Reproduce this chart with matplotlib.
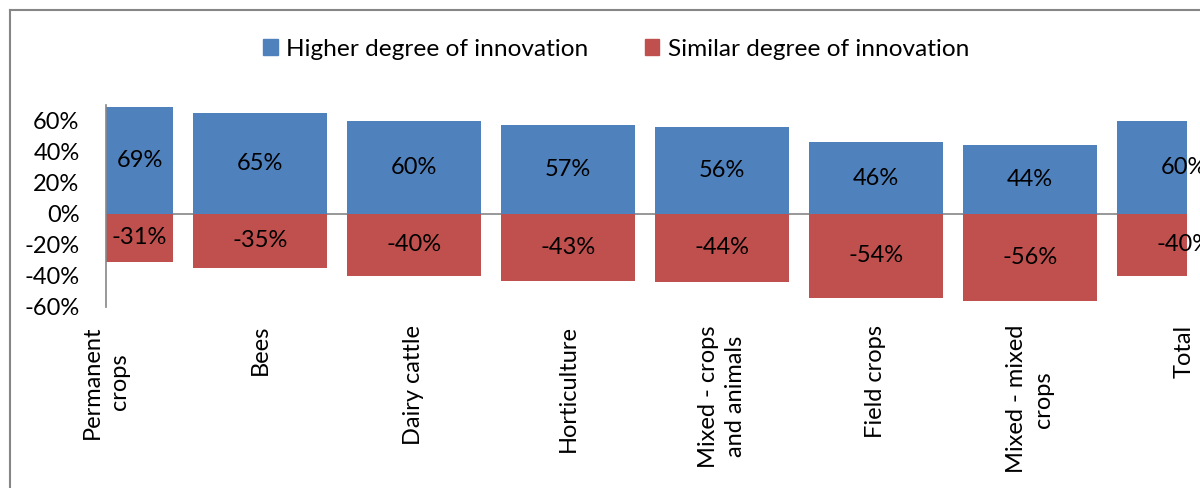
import matplotlib
matplotlib.use("Agg")
import matplotlib.pyplot as plt
from matplotlib.patches import Patch
from matplotlib.lines import Line2D

categories = ["Permanent\ncrops", "Bees", "Dairy cattle", "Horticulture",
              "Mixed - crops\nand animals", "Field crops", "Mixed - mixed\ncrops", "Total"]
higher = [69, 65, 60, 57, 56, 46, 44, 60]
similar = [-31, -35, -40, -43, -44, -54, -56, -40]
yticks = [-60, -40, -20, 0, 20, 40, 60]
series_names = ["Higher degree of innovation", "Similar degree of innovation"]

BLUE = "#4F81BD"
RED = "#C0504D"
GRAY = "#868686"
FONT = "Lato"
FS = 17

plt.rcParams["font.family"] = [FONT, "DejaVu Sans"]

W, H = 1200, 488
fig = plt.figure(figsize=(W / 100, H / 100), dpi=100)
left, right, top, bottom = 106, 1187, 105, 307
ax = fig.add_axes([left / W, 1 - bottom / H, (right - left) / W, (bottom - top) / H])

x = list(range(len(categories)))
bw = 0.87
xmin, xmax = 0.0, 7.02
ax.bar(x, higher, width=bw, color=BLUE, zorder=2)
ax.bar(x, similar, width=bw, color=RED, zorder=2)
ax.axhline(0, color=GRAY, lw=1.2, zorder=1)

ax.set_xlim(xmin, xmax)
ax.set_ylim(-60, 70)
ax.set_yticks(yticks)
ax.set_yticklabels([f"{v}%" for v in yticks], fontsize=FS)
ax.tick_params(axis="y", length=0, pad=19)
ax.set_xticks(x)
ax.set_xticklabels(categories, rotation=90, fontsize=FS, va="top", ha="center",
                   multialignment="center", linespacing=1.4)
ax.tick_params(axis="x", length=0, pad=13)

for s in ["top", "right", "bottom"]:
    ax.spines[s].set_visible(False)
ax.spines["left"].set_color(GRAY)
ax.spines["left"].set_linewidth(1.2)

for i in x:
    lo = max(i - bw / 2, xmin)
    hi = i + bw / 2
    xc = (lo + hi) / 2 if i - bw / 2 < xmin else i
    ax.text(xc, higher[i] / 2, f"{higher[i]}%", ha="center", va="center",
            fontsize=FS, clip_on=False, zorder=3)
    ax.text(xc, similar[i] / 2, f"{similar[i]}%", ha="center", va="center",
            fontsize=FS, clip_on=False, zorder=3)

handles = [Patch(facecolor=BLUE, edgecolor=BLUE), Patch(facecolor=RED, edgecolor=RED)]
fig.legend(handles, series_names, loc="center", bbox_to_anchor=(616 / W, 1 - 49 / H),
           ncol=2, frameon=False, fontsize=17.6, handlelength=0.6, handleheight=0.6,
           handletextpad=0.35, columnspacing=2.3)

fig.add_artist(Line2D([10 / W, 10 / W], [0, 1 - 10 / H], color=GRAY, lw=1.5,
                      transform=fig.transFigure))
fig.add_artist(Line2D([10 / W, 1], [1 - 10 / H, 1 - 10 / H], color=GRAY, lw=1.5,
                      transform=fig.transFigure))

fig.savefig("out.png", dpi=100)
